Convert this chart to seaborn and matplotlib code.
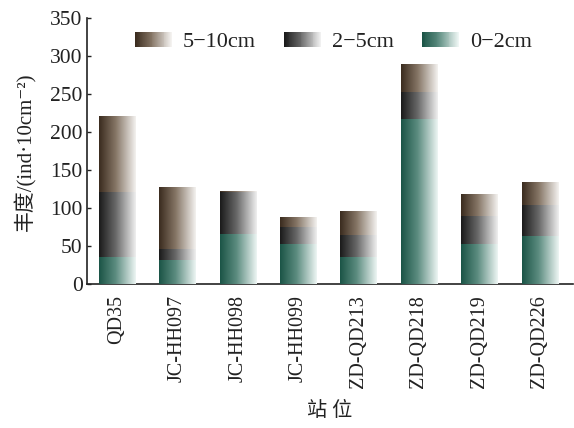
import numpy as np
import pandas as pd
import matplotlib
matplotlib.use("Agg")
import matplotlib.pyplot as plt
import seaborn as sns
from matplotlib.colors import LinearSegmentedColormap
from matplotlib.legend_handler import HandlerBase
from matplotlib.patches import Rectangle

# Abundance by sediment depth layer at each station
stations = ["QD35", "JC-HH097", "JC-HH098", "JC-HH099",
            "ZD-QD213", "ZD-QD218", "ZD-QD219", "ZD-QD226"]
layer_0_2 = [35, 31, 65, 52, 35, 217, 52, 62]
layer_2_5 = [86, 15, 56, 22, 29, 35, 37, 42]
layer_5_10 = [100, 81, 1, 13, 31, 37, 29, 30]
layer_labels = ["5−10cm", "2−5cm", "0−2cm"]
y_ticks = [0, 50, 100, 150, 200, 250, 300, 350]

# horizontal gradients: dark on the left, fading to near white on the right
cmaps = {
    "5−10cm": LinearSegmentedColormap.from_list(
        "c510", [(0, "#3a2b1e"), (0.45, "#857565"), (1, "#f4f2f0")]),
    "2−5cm": LinearSegmentedColormap.from_list(
        "c25", [(0, "#1a1a1a"), (0.45, "#686868"), (1, "#f0f0f0")]),
    "0−2cm": LinearSegmentedColormap.from_list(
        "c02", [(0, "#1b5446"), (0.45, "#5c8c80"), (1, "#eef6f4")]),
}

sns.set_theme(style="white")
plt.rcParams["font.family"] = ["Liberation Serif", "Noto Sans CJK SC", "DejaVu Serif"]
plt.rcParams["axes.unicode_minus"] = False

df = pd.DataFrame({
    "站位": stations,
    "0−2cm": layer_0_2,
    "2−5cm": layer_2_5,
    "5−10cm": layer_5_10,
})
df["top_5_10"] = df["0−2cm"] + df["2−5cm"] + df["5−10cm"]
df["top_2_5"] = df["0−2cm"] + df["2−5cm"]
df["top_0_2"] = df["0−2cm"]

fig = plt.figure(figsize=(5.74, 4.28), dpi=100)
ax = fig.add_axes([0.151, 0.336, 0.847, 0.621])

grad = np.linspace(0, 1, 256).reshape(1, -1)
zorder = 2
for col, name in [("top_5_10", "5−10cm"), ("top_2_5", "2−5cm"), ("top_0_2", "0−2cm")]:
    n_before = len(ax.patches)
    sns.barplot(data=df, x="站位", y=col, color="#888888", width=0.6,
                ax=ax, linewidth=0)
    for patch in ax.patches[n_before:]:
        x0, y0 = patch.get_x(), patch.get_y()
        w, h = patch.get_width(), patch.get_height()
        ax.imshow(grad, cmap=cmaps[name], aspect="auto", interpolation="bilinear",
                  extent=[x0, x0 + w, y0, y0 + h], zorder=zorder)
        patch.set_visible(False)
    zorder += 1

ax.set_xlim(-0.5, 7.55)
ax.set_ylim(0, 350)
ax.set_yticks(y_ticks)
ax.set_yticklabels([str(v) for v in y_ticks], fontsize=15.5)
ax.set_xticks(range(len(stations)))
ax.set_xticklabels(stations, rotation=90, fontsize=14.5)

for side in ["top", "right"]:
    ax.spines[side].set_visible(False)
for side in ["left", "bottom"]:
    ax.spines[side].set_color("#222222")
    ax.spines[side].set_linewidth(1.2)

ax.tick_params(axis="y", direction="in", length=3, width=1.0, left=True,
               colors="#222222", pad=3)
ax.tick_params(axis="x", bottom=False, pad=2, colors="#222222")

ax.set_ylabel("丰度/(ind·10cm⁻²)", fontsize=15, color="#222222", labelpad=10)
ax.set_xlabel("站 位", fontsize=14.5, color="#222222", labelpad=10)


class GradientHandler(HandlerBase):
    def __init__(self, cmap, strips=40):
        super().__init__()
        self.cmap = cmap
        self.strips = strips

    def create_artists(self, legend, orig_handle, xdescent, ydescent,
                       width, height, fontsize, trans):
        artists = []
        sw = width / self.strips
        for i in range(self.strips):
            r = Rectangle((-xdescent + i * sw, -ydescent), sw * 1.05, height,
                          facecolor=self.cmap(i / (self.strips - 1)),
                          edgecolor="none", transform=trans)
            artists.append(r)
        return artists


handles = [Rectangle((0, 0), 1, 1) for _ in layer_labels]
handler_map = {h: GradientHandler(cmaps[lab]) for h, lab in zip(handles, layer_labels)}
ax.legend(handles, layer_labels, handler_map=handler_map, ncol=3,
          loc="center left", bbox_to_anchor=(0.0993, 0.911, 0.816, 0.0),
          mode="expand", borderpad=0, borderaxespad=0, frameon=False,
          fontsize=16, handlelength=1.66, handleheight=0.66,
          handletextpad=0.5, columnspacing=1.0, labelcolor="#222222")

fig.savefig("out.png", dpi=100)
